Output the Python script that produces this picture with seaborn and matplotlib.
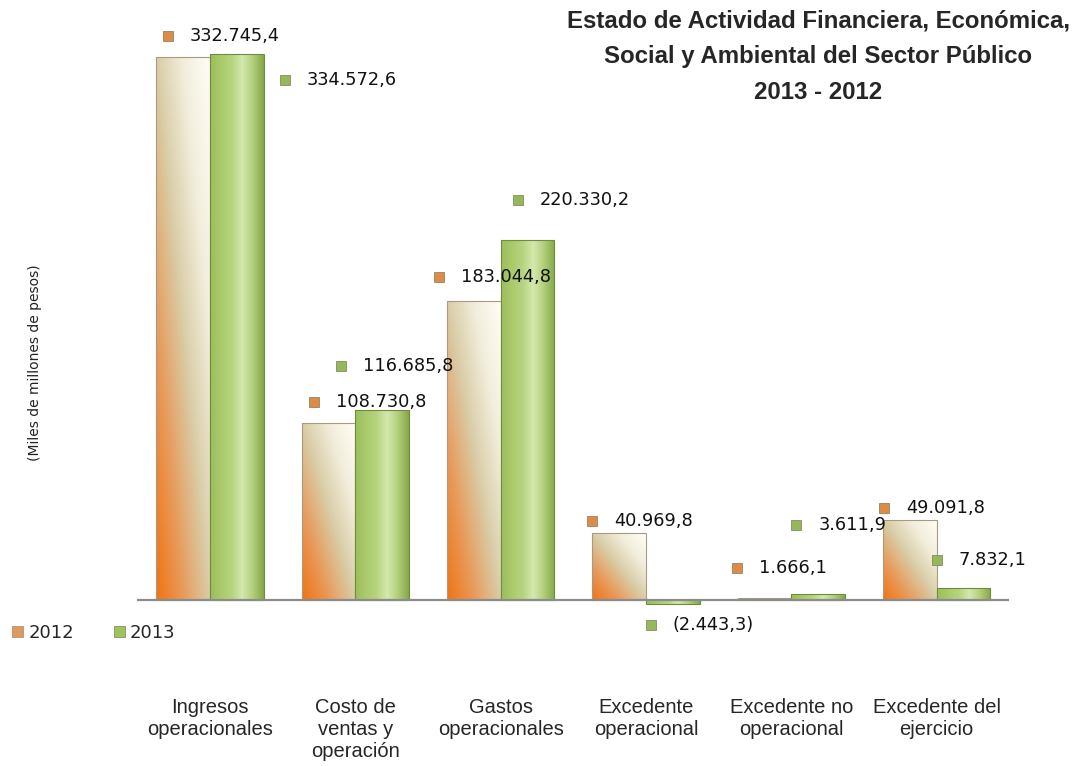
import numpy as np
import pandas as pd
import matplotlib
matplotlib.use("Agg")
from matplotlib import pyplot as plt
from matplotlib.colors import LinearSegmentedColormap
from matplotlib.patches import Patch
from matplotlib.transforms import ScaledTranslation
import seaborn as sns

# Chart data (miles de millones de pesos)
CATEGORIES = ['Ingresos\noperacionales', 'Costo de\nventas y\noperación',
              'Gastos\noperacionales', 'Excedente\noperacional',
              'Excedente no\noperacional', 'Excedente del\nejercicio']
YEARS = ['2012', '2013']
VAL_2012 = [332745.4, 108730.8, 183044.8, 40969.8, 1666.1, 49091.8]
VAL_2013 = [334572.6, 116685.8, 220330.2, -2443.3, 3611.9, 7832.1]

# label offsets from bar end (pixels, marker centre) - layout only
OFF_2012 = [(-15, 21), (-14, 21), (-35, 24), (-27, 12), (-27, 30), (-26, 12)]
OFF_2013 = [(48, -26), (-41, 44), (-10, 40), (-22, -21), (-22, 69), (-27, 28)]

df = pd.DataFrame({
    'Categoria': CATEGORIES * 2,
    'Año': [YEARS[0]] * len(CATEGORIES) + [YEARS[1]] * len(CATEGORIES),
    'Valor': VAL_2012 + VAL_2013,
})

sns.set_style("white")
LABEL_FONT = ['DejaVu Sans']
ARIAL = ['Liberation Sans', 'DejaVu Sans']

fig = plt.figure(figsize=(10.75, 7.66), dpi=100)
ax = fig.add_axes([0.1277, 0.1906, 0.8112, 0.7572])

palette = {'2012': '#E8A46A', '2013': '#A6C766'}
sns.barplot(data=df, x='Categoria', y='Valor', hue='Año', palette=palette,
            width=0.74, ax=ax, legend=False, saturation=1)

cmap_12 = LinearSegmentedColormap.from_list('c12', ['#F07414', '#E89A5A', '#D9CCA6', '#F2EEDC', '#FFFDF6'])
cmap_13 = LinearSegmentedColormap.from_list('c13', ['#9CBE5C', '#AACA6C', '#B6D47E', '#D4E8AE', '#B2CF7A', '#86A84A'])

u = np.linspace(0, 1, 64)
U, V = np.meshgrid(u, u)
grad_12 = 0.5 * (U + V)
grad_13 = U

for cont, cmap, grad, edge in [(ax.containers[0], cmap_12, grad_12, '#A89C80'),
                              (ax.containers[1], cmap_13, grad_13, '#6E8C3C')]:
    for bar in cont:
        x0, w = bar.get_x(), bar.get_width()
        y0, h = bar.get_y(), bar.get_height()
        ylo, yhi = min(y0, y0 + h), max(y0, y0 + h)
        im = ax.imshow(grad, cmap=cmap, origin='lower', extent=(x0, x0 + w, ylo, yhi),
                       aspect='auto', interpolation='bilinear', zorder=2, vmin=0, vmax=1)
        im.set_clip_path(bar)
        bar.set_facecolor('none')
        bar.set_edgecolor(edge)
        bar.set_linewidth(0.8)
        bar.set_zorder(3)

ax.set_xlim(-0.5, 5.5)
ax.set_ylim(-12000, 343000)

ax.axhline(0, color='#8C8C8C', lw=1.6, zorder=4)


def fmt(v):
    s = f"{abs(v):,.1f}".replace(',', 'X').replace('.', ',').replace('X', '.')
    return f"({s})" if v < 0 else s


for cont, offs, mcol in [(ax.containers[0], OFF_2012, '#E08A48'),
                         (ax.containers[1], OFF_2013, '#94B85A')]:
    for bar, (dx, dy) in zip(cont, offs):
        xc = bar.get_x() + bar.get_width() / 2
        yend = bar.get_y() + bar.get_height()
        tr = ax.transData + ScaledTranslation(dx / 100, dy / 100, fig.dpi_scale_trans)
        ax.plot([xc], [yend], marker='s', ms=7, color=mcol, mec='#7A7A5A', mew=0.5,
                transform=tr, clip_on=False, zorder=5)
        tr2 = ax.transData + ScaledTranslation((dx + 22) / 100, dy / 100, fig.dpi_scale_trans)
        ax.text(xc, yend, fmt(bar.get_height()), transform=tr2, ha='left', va='center',
                fontsize=12.8, family=LABEL_FONT, color='#111111', zorder=5)

for s in ax.spines.values():
    s.set_visible(False)
ax.set_yticks([])
ax.set_xlabel('')
ax.set_ylabel('')
ax.tick_params(axis='x', length=0, pad=56)
for t in ax.get_xticklabels():
    t.set_fontfamily(ARIAL)
    t.set_fontsize(14.5)
    t.set_linespacing(1.22)

handles = [Patch(facecolor='#E09A60', edgecolor='#A08A6A', lw=0.5),
           Patch(facecolor='#A0C262', edgecolor='#6E8C3C', lw=0.5)]
fig.legend(handles, YEARS, loc='center left', bbox_to_anchor=(0.008, 0.1736), ncol=2,
           frameon=False, handlelength=0.6, handleheight=0.6, handletextpad=0.3,
           columnspacing=2.2, borderpad=0.2, borderaxespad=0,
           prop={'family': LABEL_FONT, 'size': 13})

fig.text(0.0326, 0.527, '(Miles de millones de pesos)', rotation=90, ha='center', va='center',
         fontsize=10, family=LABEL_FONT, color='#222222')

fig.text(0.761, 0.9256, 'Estado de Actividad Financiera, Económica,\nSocial y Ambiental del Sector Público\n2013 - 2012',
         ha='center', va='center', multialignment='center', fontsize=17.3, fontweight='bold',
         family=ARIAL, linespacing=1.72)

fig.savefig('out.png', dpi=100)
